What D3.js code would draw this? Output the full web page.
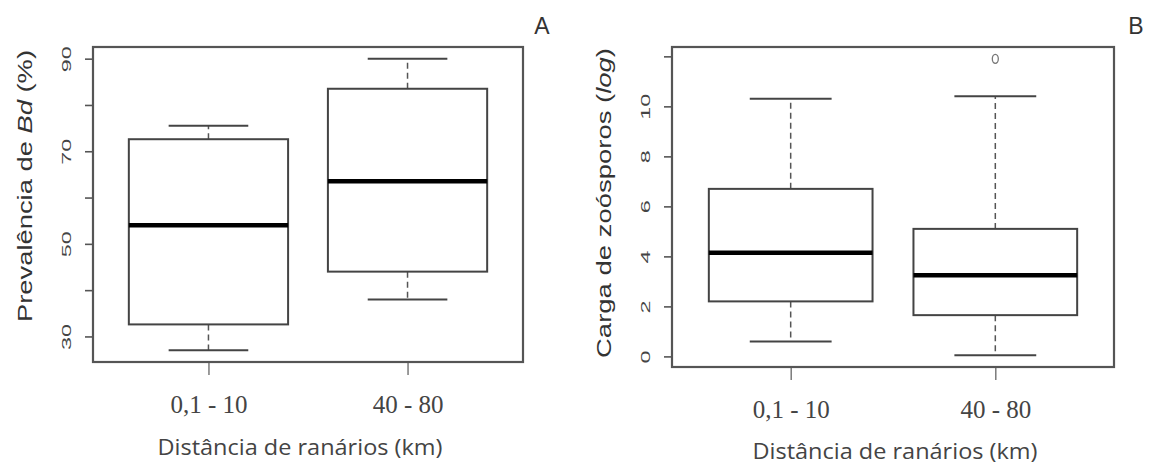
<!DOCTYPE html>
<html>
<head>
<meta charset="utf-8">
<title>Bd boxplots</title>
<script src="https://cdn.jsdelivr.net/npm/d3@7"></script>
<style>
  body{ margin:0; background:#fff; }
  svg{ display:block; font-family:"Liberation Sans", Arial, sans-serif; }
  .tick text{ fill:#444; }
  .cat{ font-family:"Liberation Serif", "Times New Roman", serif; fill:#444; }
  .xtitle{ font-family:"Open Sans", "Noto Sans", sans-serif; fill:#444; }
</style>
</head>
<body>
<script>
// categories and five-number summaries
var categories = ["0,1 - 10", "40 - 80"];

// panel A : prevalence of Bd (%)
var prevMin = [27, 38];
var prevQ1  = [32.6, 44];
var prevMed = [54, 63.5];
var prevQ3  = [72.6, 83.5];
var prevMax = [75.5, 90];
var prevOut = [[], []];
var prevTicks  = [30, 40, 50, 60, 70, 80, 90];
var prevLabels = [30, 50, 70, 90];

// panel B : zoospore load (log)
var loadMin = [0.6, 0.05];
var loadQ1  = [2.2, 1.65];
var loadMed = [4.15, 3.25];
var loadQ3  = [6.7, 5.1];
var loadMax = [10.3, 10.4];
var loadOut = [[], [11.9]];
var loadTicks  = [0, 2, 4, 6, 8, 10, 12];
var loadLabels = [0, 2, 4, 6, 8, 10];

var W = 1149, H = 468;
var svg = d3.select("body").append("svg").attr("width", W).attr("height", H);

function panel(o){
  var g = svg.append("g");
  var all = o.min.concat(o.max).concat(d3.merge(o.out));
  var ext = d3.extent(all), pad = (ext[1]-ext[0])*0.04;
  var x = d3.scaleLinear().domain([0.42, 2.58]).range([o.left, o.right]);
  var y = d3.scaleLinear().domain([ext[0]-pad, ext[1]+pad]).range([o.bottom, o.top]);
  var bw = 0.4, cw = 0.2;

  // y axis
  var ya = g.append("g").attr("transform", "translate(" + o.left + ",0)")
    .call(d3.axisLeft(y).tickValues(o.ticks).tickSize(8)
      .tickFormat(function(d){ return o.labels.indexOf(d) >= 0 ? d : ""; }));
  ya.select(".domain").remove();
  ya.selectAll(".tick line").attr("stroke", "#555").attr("stroke-width", 1.6);
  ya.selectAll(".tick text")
    .attr("transform", "rotate(-90)")
    .attr("x", 0).attr("y", -22).attr("dy", 0)
    .attr("text-anchor", "middle")
    .style("font-size", "13px")
    .attr("textLength", function(){ return this.textContent.length == 2 ? 26 : 13; })
    .attr("lengthAdjust", "spacingAndGlyphs");

  // x axis
  var xa = g.append("g").attr("transform", "translate(0," + o.bottom + ")")
    .call(d3.axisBottom(x).tickValues([1, 2]).tickSize(13)
      .tickFormat(function(d){ return categories[d-1]; }));
  xa.select(".domain").remove();
  xa.selectAll(".tick line").attr("stroke", "#666").attr("stroke-width", 1.3);
  xa.selectAll(".tick text").attr("class", "cat")
    .attr("y", 0).attr("dy", 0).attr("transform", "translate(0,51)")
    .style("font-size", "25px").style("fill", "#444");

  // frame
  g.append("rect").attr("x", o.left).attr("y", o.top)
    .attr("width", o.right - o.left).attr("height", o.bottom - o.top)
    .attr("fill", "none").attr("stroke", "#555").attr("stroke-width", 2.2);

  var idx = [0, 1];
  var b = g.selectAll(".box").data(idx).enter().append("g").attr("class", "box");
  // whiskers
  b.append("line").attr("x1", function(i){ return x(i+1); }).attr("x2", function(i){ return x(i+1); })
    .attr("y1", function(i){ return y(o.q3[i]); }).attr("y2", function(i){ return y(o.max[i]); })
    .attr("stroke", "#555").attr("stroke-width", 1.5).attr("stroke-dasharray", "6,4");
  b.append("line").attr("x1", function(i){ return x(i+1); }).attr("x2", function(i){ return x(i+1); })
    .attr("y1", function(i){ return y(o.q1[i]); }).attr("y2", function(i){ return y(o.min[i]); })
    .attr("stroke", "#555").attr("stroke-width", 1.5).attr("stroke-dasharray", "6,4");
  // caps
  [o.max, o.min].forEach(function(arr){
    b.append("line").attr("x1", function(i){ return x(i+1-cw); }).attr("x2", function(i){ return x(i+1+cw); })
      .attr("y1", function(i){ return y(arr[i]); }).attr("y2", function(i){ return y(arr[i]); })
      .attr("stroke", "#444").attr("stroke-width", 2);
  });
  // box
  b.append("rect").attr("x", function(i){ return x(i+1-bw); })
    .attr("width", function(i){ return x(i+1+bw) - x(i+1-bw); })
    .attr("y", function(i){ return y(o.q3[i]); })
    .attr("height", function(i){ return y(o.q1[i]) - y(o.q3[i]); })
    .attr("fill", "#fff").attr("stroke", "#444").attr("stroke-width", 2);
  // median
  b.append("line").attr("x1", function(i){ return x(i+1-bw); }).attr("x2", function(i){ return x(i+1+bw); })
    .attr("y1", function(i){ return y(o.med[i]); }).attr("y2", function(i){ return y(o.med[i]); })
    .attr("stroke", "#000").attr("stroke-width", 4.5);
  // outliers
  idx.forEach(function(i){
    g.selectAll(null).data(o.out[i]).enter().append("ellipse")
      .attr("cx", x(i+1)).attr("cy", function(d){ return y(d); })
      .attr("rx", 3).attr("ry", 4.5)
      .attr("fill", "none").attr("stroke", "#777").attr("stroke-width", 1.3);
  });

  // y title
  var t = g.append("text").attr("transform", "translate(" + o.titleX + "," + o.titleY + ") rotate(-90)")
    .attr("text-anchor", "middle").style("font-size", "21px").style("fill", "#333")
    .attr("textLength", o.titleLen).attr("lengthAdjust", "spacingAndGlyphs");
  o.title.forEach(function(p){
    t.append("tspan").text(p[0]).style("font-style", p[1] ? "italic" : "normal");
  });

  // x title
  g.append("text").attr("class", "xtitle").attr("x", x(1.5) + o.xtitleDx).attr("y", o.xtitleY)
    .attr("text-anchor", "middle").style("font-size", "22px")
    .attr("textLength", 285).attr("lengthAdjust", "spacingAndGlyphs")
    .text("Distância de ranários (km)");

  // panel letter
  g.append("text").attr("x", o.letterX).attr("y", 34).attr("text-anchor", "middle")
    .style("font-size", "23px").style("fill", "#333").text(o.letter);
}

panel({left: 93, right: 523, top: 47, bottom: 362,
  min: prevMin, q1: prevQ1, med: prevMed, q3: prevQ3, max: prevMax, out: prevOut,
  ticks: prevTicks, labels: prevLabels,
  title: [["Prevalência de ", false], ["Bd", true], [" (%)", false]],
  titleX: 32, titleY: 186, titleLen: 272, xtitleY: 455, xtitleDx: -8, letter: "A", letterX: 542});

panel({left: 672, right: 1114, top: 47, bottom: 367,
  min: loadMin, q1: loadQ1, med: loadMed, q3: loadQ3, max: loadMax, out: loadOut,
  ticks: loadTicks, labels: loadLabels,
  title: [["Carga de zoósporos (", false], ["log", true], [")", false]],
  titleX: 611, titleY: 203, titleLen: 310, xtitleY: 459, xtitleDx: 2, letter: "B", letterX: 1136});
</script>
</body>
</html>
